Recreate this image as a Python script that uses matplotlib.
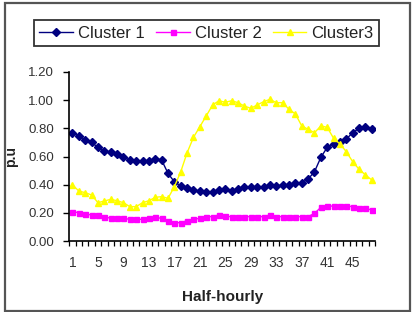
import matplotlib
matplotlib.use("Agg")
import matplotlib.pyplot as plt
from matplotlib.patches import Rectangle

half_hours = list(range(1, 49))
cluster1 = [0.77, 0.745, 0.72, 0.70, 0.665, 0.64, 0.63, 0.615, 0.595, 0.575,
            0.565, 0.565, 0.565, 0.585, 0.575, 0.48, 0.42, 0.39, 0.375, 0.36,
            0.355, 0.35, 0.35, 0.36, 0.366, 0.357, 0.371, 0.381, 0.381, 0.381,
            0.381, 0.398, 0.39, 0.398, 0.398, 0.41, 0.414, 0.44, 0.492, 0.594,
            0.665, 0.689, 0.705, 0.724, 0.769, 0.80, 0.807, 0.793]
cluster2 = [0.208, 0.201, 0.192, 0.185, 0.185, 0.173, 0.161, 0.161, 0.161, 0.154,
            0.154, 0.154, 0.161, 0.168, 0.161, 0.144, 0.13, 0.13, 0.144, 0.154,
            0.161, 0.173, 0.173, 0.185, 0.175, 0.173, 0.173, 0.173, 0.173, 0.173,
            0.173, 0.185, 0.173, 0.173, 0.173, 0.173, 0.173, 0.173, 0.196, 0.239,
            0.248, 0.248, 0.248, 0.248, 0.244, 0.232, 0.232, 0.22]
cluster3 = [0.398, 0.355, 0.343, 0.327, 0.272, 0.284, 0.296, 0.286, 0.272, 0.244,
            0.244, 0.272, 0.286, 0.31, 0.315, 0.303, 0.386, 0.492, 0.627, 0.736,
            0.812, 0.888, 0.966, 0.996, 0.985, 0.996, 0.982, 0.958, 0.942, 0.966,
            0.989, 1.006, 0.982, 0.982, 0.935, 0.902, 0.817, 0.793, 0.769, 0.817,
            0.807, 0.729, 0.689, 0.634, 0.563, 0.509, 0.469, 0.433]
series_names = ["Cluster 1", "Cluster 2", "Cluster3"]
x_tick_labels = [1, 5, 9, 13, 17, 21, 25, 29, 33, 37, 41, 45]
y_ticks = [0.0, 0.2, 0.4, 0.6, 0.8, 1.0, 1.2]

plt.rcParams['font.family'] = ['Liberation Sans', 'DejaVu Sans']

W, H = 414, 312
fig = plt.figure(figsize=(W / 100, H / 100), dpi=100)
fig.patch.set_facecolor('white')

# outer chart border
fig.patches.append(Rectangle((5 / W, 1 - 311 / H), 405 / W, 308 / H,
                             transform=fig.transFigure, fill=False,
                             edgecolor='#555555', linewidth=1.6))

left, right, bottom, top = 69.3, 375, 241, 72
ax = fig.add_axes([left / W, 1 - bottom / H, (right - left) / W, (bottom - top) / H])

l1, = ax.plot(half_hours, cluster1, color='#000080', marker='D', markersize=3.8,
              linewidth=1.0, label=series_names[0])
l2, = ax.plot(half_hours, cluster2, color='#FF00FF', marker='s', markersize=3.6,
              linewidth=1.0, label=series_names[1])
l3, = ax.plot(half_hours, cluster3, color='#FFFF00', marker='^', markersize=4.8,
              linewidth=1.0, label=series_names[2])

ax.set_xlim(0.5, 48.5)
ax.set_ylim(0, 1.2)
for s in ['top', 'right']:
    ax.spines[s].set_visible(False)
for s in ['left', 'bottom']:
    ax.spines[s].set_linewidth(1.2)
    ax.spines[s].set_color('black')

ax.set_yticks(y_ticks)
ax.set_yticklabels([f"{v:.2f}" for v in y_ticks])
ax.tick_params(axis='y', direction='out', length=4, width=1, pad=7,
               labelsize=9.5, labelcolor='#333333')

ax.set_xticks(x_tick_labels)
ax.set_xticklabels([str(v) for v in x_tick_labels])
ax.tick_params(axis='x', which='major', length=0, pad=11, labelsize=10,
               labelcolor='#333333')
ax.set_xticks([i + 0.5 for i in range(0, 49)], minor=True)
ax.tick_params(axis='x', which='minor', direction='out', length=3.5, width=0.9)

ax.set_xlabel("Half-hourly", fontsize=11, fontweight='bold', color='#222222')
ax.xaxis.set_label_coords(0.5, -0.29)
ax.set_ylabel("p.u", fontsize=10, fontweight='bold', color='#222222')
ax.yaxis.set_label_coords(-0.168, 0.5)

leg = fig.legend(handles=[l1, l2, l3], loc='center', ncol=3,
                 bbox_to_anchor=(206.5 / W, 1 - 33 / H), fontsize=12,
                 frameon=True, fancybox=False, handlelength=2.0,
                 handletextpad=0.3, columnspacing=0.7, borderpad=0.35)
leg.get_frame().set_edgecolor('black')
leg.get_frame().set_linewidth(1.3)
for t in leg.get_texts():
    t.set_color('#222222')

fig.savefig("out.png", dpi=100)
